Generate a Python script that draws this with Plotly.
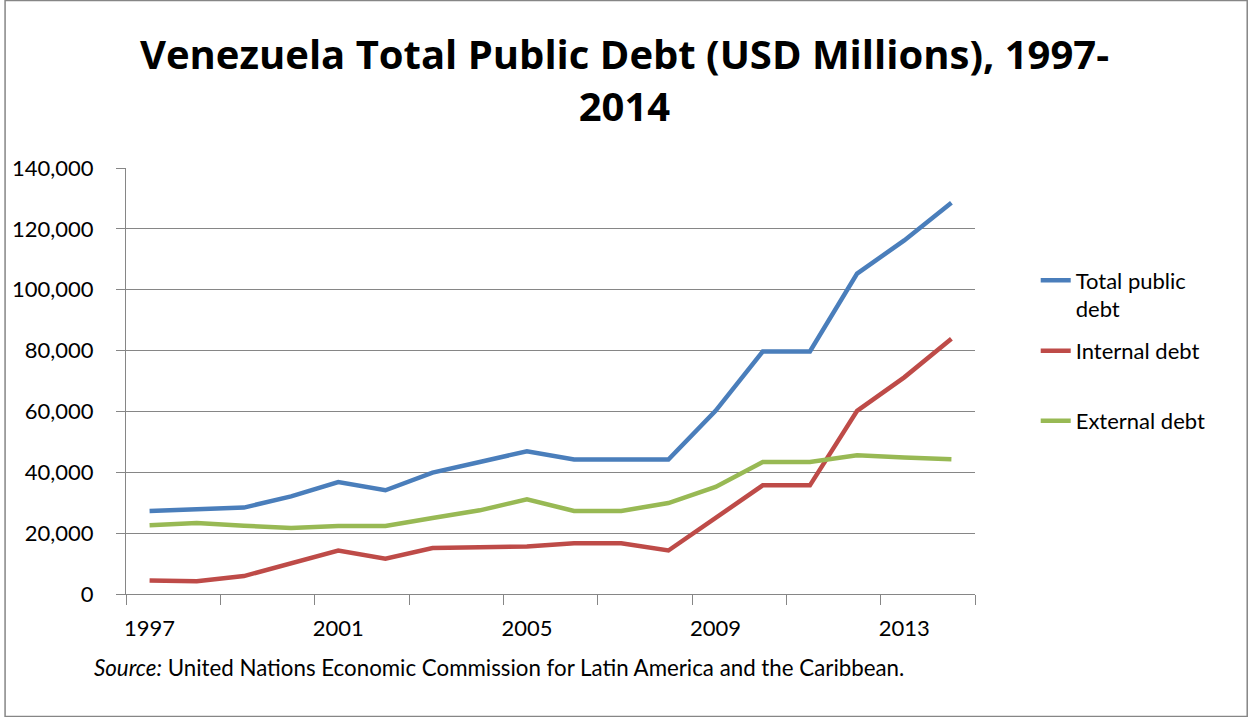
import plotly.graph_objects as go

years = list(range(1997, 2015))
total_debt = [27280, 27740, 28400, 32100, 36800, 34100, 39900, 43400, 46900,
              44200, 44200, 44200, 60200, 79700, 79700, 105300, 116200, 128600]
internal_debt = [4450, 4200, 5900, 10100, 14300, 11600, 15100, 15400, 15650,
                 16700, 16700, 14300, 24800, 35700, 35700, 60200, 71200, 83900]
external_debt = [22570, 23300, 22470, 21700, 22340, 22340, 24970, 27500, 31100,
                 27280, 27280, 29900, 35200, 43400, 43400, 45600, 44900, 44300]
series_names = ["Total public<br>debt", "Internal debt", "External debt"]
colors = ["#4a7ebb", "#be4b48", "#98b954"]
label_years = [1997, 2001, 2005, 2009, 2013]

FONT = "Lato"
W, H = 1249, 717
ML, MR, MT, MB = 122, 274, 168, 123
PW, PH = W - ML - MR, H - MT - MB

def px_x(p):
    return (p - ML) / PW

def px_y(p):
    return (H - MB - p) / PH

idx = list(range(len(years)))
fig = go.Figure()
legends = ["legend", "legend2", "legend3"]
for vals, name, col, lg in zip([total_debt, internal_debt, external_debt], series_names, colors, legends):
    fig.add_trace(go.Scatter(x=idx, y=vals, mode="lines", name=name,
                             line=dict(color=col, width=4.5), legend=lg))

tickvals = [years.index(y) for y in label_years]
minor_vals = [i - 0.5 for i in range(0, len(years) + 1, 2)]

leg_common = dict(font=dict(family=FONT, size=22, color="black"), bgcolor="rgba(0,0,0,0)",
                  xanchor="left", yanchor="middle", valign="top", itemwidth=30)

fig.update_layout(
    width=W, height=H,
    margin=dict(l=ML, r=MR, t=MT, b=MB, pad=0),
    paper_bgcolor="white", plot_bgcolor="white",
    title=dict(text="<b>Venezuela Total Public Debt (USD Millions), 1997-<br>2014</b>",
               x=0.5, xanchor="center", y=1 - 69 / H, yanchor="middle",
               font=dict(family="Open Sans", size=40, color="black")),
    xaxis=dict(range=[-0.5, len(years) - 0.5], tickmode="array", tickvals=tickvals,
               ticktext=[str(y) for y in label_years], ticks="", showgrid=False,
               showline=True, linecolor="#868686", linewidth=1.3, zeroline=False,
               ticklabelstandoff=14,
               tickfont=dict(family=FONT, size=22, color="black"),
               minor=dict(tickmode="array", tickvals=minor_vals, ticks="outside",
                          ticklen=10, tickcolor="#868686", tickwidth=1.3, showgrid=False)),
    yaxis=dict(range=[0, 140000], dtick=20000, tickformat=",", showgrid=True,
               gridcolor="#868686", gridwidth=1.3, showline=True, linecolor="#868686",
               linewidth=1.3, ticks="outside", ticklen=9, tickcolor="#868686", tickwidth=1.3,
               zeroline=False, ticklabelstandoff=18,
               tickfont=dict(family=FONT, size=22, color="black")),
    legend=dict(x=px_x(1036), y=px_y(295), **leg_common),
    legend2=dict(x=px_x(1036), y=px_y(351), **leg_common),
    legend3=dict(x=px_x(1036), y=px_y(421), **leg_common),
    showlegend=True,
)

fig.add_annotation(text="<i>Source:</i> United Nations Economic Commission for Latin America and the Caribbean.",
                   xref="paper", yref="paper", x=px_x(88), y=px_y(667), xanchor="left", yanchor="middle",
                   showarrow=False, font=dict(family=FONT, size=22.3, color="black"))

fig.add_shape(type="rect", xref="paper", yref="paper",
              x0=px_x(0.5), x1=px_x(W - 0.5), y0=px_y(H - 0.5), y1=px_y(0.5),
              line=dict(color="#868686", width=1.5), fillcolor="rgba(0,0,0,0)", layer="below")

fig.write_html("out.html", config={"displayModeBar": False},
               post_script="document.body.style.margin='0';document.body.style.overflow='hidden';")
